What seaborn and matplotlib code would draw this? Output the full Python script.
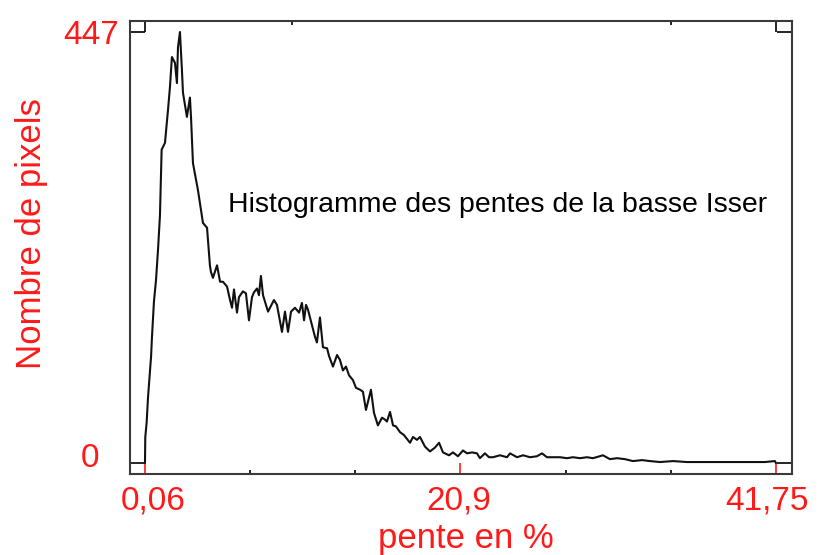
import numpy as np
import pandas as pd
import matplotlib
matplotlib.use("Agg")
import matplotlib.pyplot as plt
import matplotlib.transforms as mtransforms
import seaborn as sns

# Slope histogram of the lower Isser basin (slope in %, pixel count)
pente = [0.06, 0.08, 0.17, 0.26, 0.46, 0.52, 0.65, 0.79, 0.92, 1.05, 1.16,
         1.38, 1.58, 1.71, 1.84, 2.04, 2.17, 2.24, 2.37, 2.50, 2.57, 2.83, 3.03,
         3.10, 3.23, 3.56, 3.89, 4.16, 4.35, 4.42, 4.55, 4.82, 5.02, 5.21, 5.48,
         5.68, 5.81, 5.94, 6.14, 6.27, 6.53, 6.73, 6.93, 7.13, 7.26, 7.46, 7.59,
         7.72, 7.86, 8.19, 8.58, 8.78, 9.11, 9.31, 9.51, 9.71, 9.97, 10.24, 10.43,
         10.57, 10.70, 10.83, 11.09, 11.29, 11.42, 11.62, 11.82, 12.09, 12.22, 12.48,
         12.75, 12.94, 13.14, 13.34, 13.54, 13.80, 14.00, 14.27, 14.46, 14.66, 14.99,
         15.19, 15.45, 15.72, 15.92, 16.05, 16.25, 16.45, 16.64, 16.91, 17.17, 17.57,
         17.77, 18.03, 18.23, 18.56, 18.89, 19.22, 19.49, 19.75, 20.15, 20.41, 20.74,
         21.07, 21.34, 21.67, 22.00, 22.19, 22.52, 22.79, 23.05, 23.52, 23.98, 24.18,
         24.64, 25.04, 25.50, 25.96, 26.29, 26.62, 27.02, 27.48, 27.94, 28.34, 28.80,
         29.26, 29.66, 30.32, 30.78, 31.25, 31.77, 32.30, 32.90, 33.43, 34.09, 34.95,
         35.87, 36.73, 37.85, 39.04, 40.03, 41.02, 41.68, 41.75]
nb_pixels = [0, 27, 42, 68, 110, 130, 167, 190, 221, 257, 325,
             332, 366, 390, 421, 415, 394, 431, 447, 408, 384, 359, 379,
             359, 311, 283, 249, 244, 205, 198, 192, 205, 188, 188, 183,
             169, 161, 180, 156, 172, 178, 176, 148, 172, 177, 181, 174,
             194, 174, 157, 169, 164, 136, 157, 136, 157, 161, 156, 166,
             148, 164, 159, 143, 131, 125, 151, 120, 119, 111, 100,
             112, 107, 96, 100, 91, 86, 78, 76, 74, 55, 76,
             52, 39, 47, 45, 43, 53, 39, 38, 32, 29, 21,
             27, 24, 27, 17, 12, 16, 21, 11, 8, 11, 7,
             13, 10, 11, 10, 5, 10, 6, 6, 8, 6, 10,
             6, 8, 6, 7, 10, 6, 6, 6, 5, 6, 5,
             6, 5, 8, 4, 5, 4, 2, 3, 2, 1, 2,
             1, 1, 1, 1, 1, 1, 2, 0]

x_ticks = [0.06, 20.9, 41.75]
x_tick_labels = ["0,06", "20,9", "41,75"]
y_ticks = [0, 447]
y_tick_labels = ["0", "447"]

df = pd.DataFrame({"pente": pente, "nb": nb_pixels})

sns.set_theme(style="white")
plt.rcParams["font.family"] = ["Liberation Sans", "DejaVu Sans"]

fig = plt.figure(figsize=(8.18, 5.55), dpi=100)
ax = fig.add_axes([130 / 818, 81 / 555, 662 / 818, 453 / 555])

sns.lineplot(data=df, x="pente", y="nb", color="#111111", linewidth=1.5, ax=ax,
             estimator=None, sort=False)

# axis limits leave a small margin around the data range
xmin, xmax = min(x_ticks), max(x_ticks)
ymin, ymax = min(y_ticks), max(y_ticks)
ax.set_xlim(xmin - 0.99, xmax + 1.06)
ax.set_ylim(ymin - 11.4, ymax + 11.4)

for s in ax.spines.values():
    s.set_color("#3a3a3a")
    s.set_linewidth(1.5)

red = "#ff1a1a"
ax.set_xticks(x_ticks)
ax.set_xticklabels(x_tick_labels)
ax.set_xticks([xmin + (xmax - xmin) * k / 6 for k in (1, 2, 4, 5)], minor=True)
ax.tick_params(axis="x", which="major", direction="in", length=8, width=1.2,
               color=red, labelcolor=red, labelsize=24, pad=8, bottom=True)
ax.tick_params(axis="x", which="minor", direction="in", length=3, width=1.2,
               color="black", bottom=True)
# keep the end labels inside the figure
for lab, dx in zip(ax.get_xticklabels(), (8, -2, -9)):
    lab.set_transform(lab.get_transform() +
                      mtransforms.ScaledTranslation(dx / 100, 0, fig.dpi_scale_trans))

ax.set_yticks(y_ticks)
ax.set_yticklabels(y_tick_labels)
ax.tick_params(axis="y", which="major", direction="in", length=11, width=1.2,
               color="black", labelcolor=red, labelsize=24, pad=8,
               left=True, right=True)

# top ticks at the range ends
top = ax.secondary_xaxis("top")
top.set_xticks([xmin, xmax])
top.set_xticks([9.77, 34.81], minor=True)
top.tick_params(which="major", direction="in", length=8, width=1.2, color="black",
                labeltop=False)
top.tick_params(which="minor", direction="in", length=3, width=1.2, color="black")
top.spines["top"].set_visible(False)

# nudge the zero label up and to the left
zlab = ax.get_yticklabels()[0]
zlab.set_transform(zlab.get_transform() +
                   mtransforms.ScaledTranslation(-20 / 100, 8 / 100, fig.dpi_scale_trans))

ax.set_xlabel("pente en %", color=red, fontsize=25)
ax.xaxis.set_label_coords(0.5075, -0.105)
ax.set_ylabel("Nombre de pixels", color=red, fontsize=25)
ax.yaxis.set_label_coords(-0.1235, 0.53)

ax.text(5.54, 268, "Histogramme des pentes de la basse Isser", fontsize=20.5,
        color="black", ha="left", va="center")

fig.savefig("out.png", dpi=100, facecolor="white")
